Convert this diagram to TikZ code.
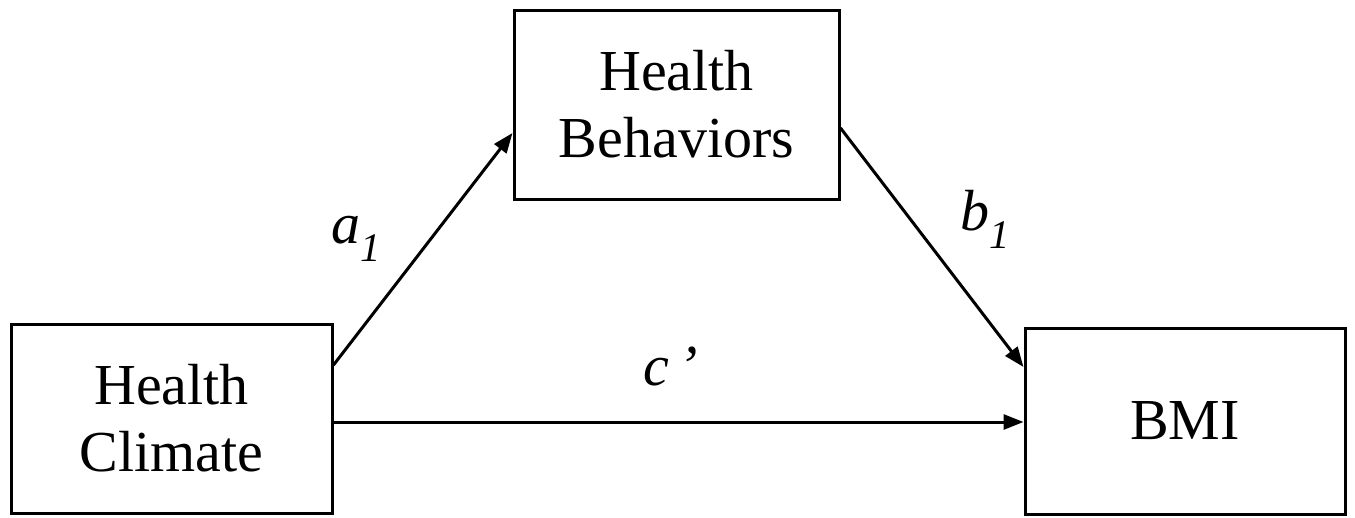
\documentclass[tikz,border=0pt]{standalone}
\usepackage{fontspec}
\setmainfont{Liberation Serif}
\usetikzlibrary{arrows.meta}
\tikzset{
  box/.style={draw=black, line width=3pt, rectangle, inner sep=0pt, align=center,
    font=\fontsize{58pt}{67pt}\selectfont},
  conn/.style={draw=black, line width=3pt, -{Triangle[length=20pt,width=15pt]}},
  lbl/.style={inner sep=0pt, anchor=base west, font=\fontsize{58pt}{67pt}\selectfont}
}
\begin{document}
\begin{tikzpicture}[x=1pt,y=-1pt]
\useasboundingbox (0,0) rectangle (1355,517);
\node[box, minimum width=325pt, minimum height=189pt] (HB) at (676.5,104.5) {Health\\Behaviors};
\node[box, minimum width=321pt, minimum height=189pt] (HC) at (171.5,418.5) {Health\\Climate};
\node[box, minimum width=320pt, minimum height=186pt] (BMI) at (1185,421) {BMI};
\draw[conn] ([yshift=53.5pt]HC.east) -- ([yshift=-28.5pt]HB.west);
\draw[conn] ([yshift=-23.5pt]HB.east) -- ([yshift=54pt]BMI.west);
\draw[conn] ([yshift=-3.5pt]HC.east) -- ([yshift=-1pt]BMI.west);
\node[lbl] (la) at (331,243) {\textit{a}\textsubscript{\textit{1}}};
\node[lbl] (lb) at (960,230) {\textit{b}\textsubscript{\textit{1}}};
\node[lbl] (lc) at (643,385) {\textit{c\,’}};
\end{tikzpicture}
\end{document}
